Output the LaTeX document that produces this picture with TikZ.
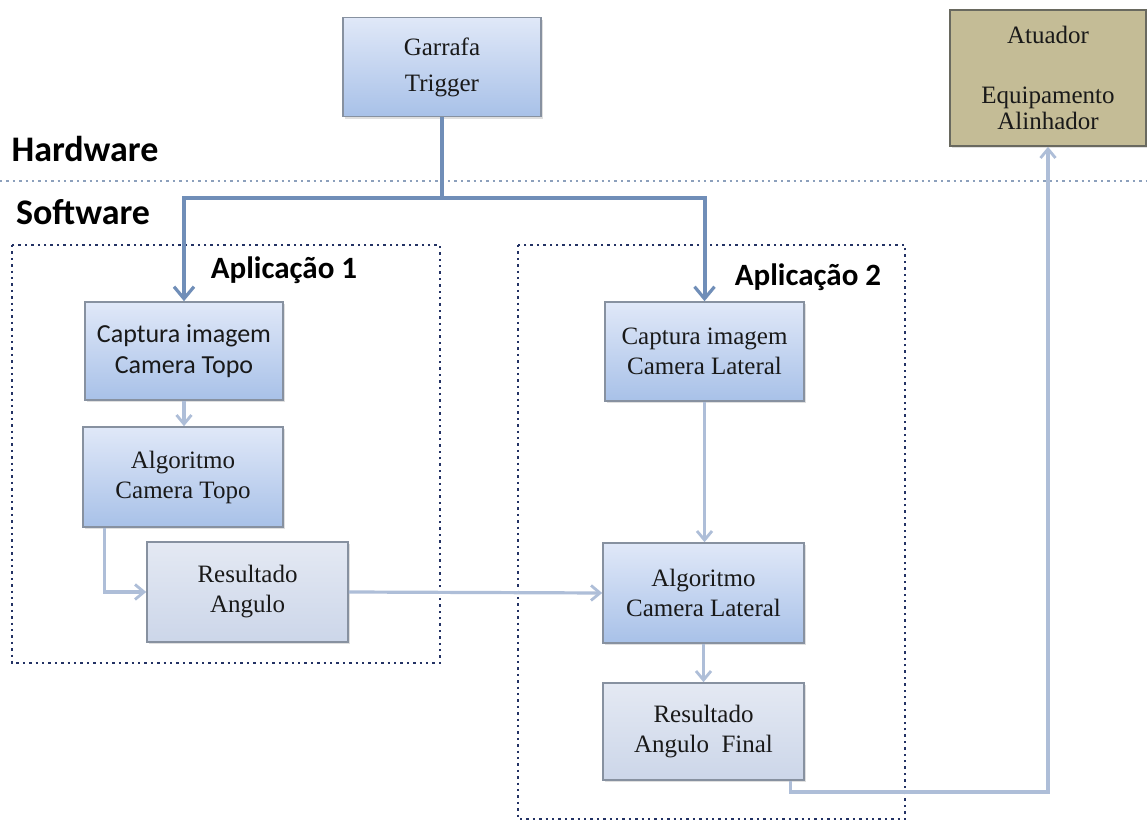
\documentclass[tikz,border=0pt]{standalone}
\usepackage{fontspec}
\setmainfont{Liberation Serif}
\newfontfamily\calib{Carlito}
\usetikzlibrary{arrows.meta,shadows}
\definecolor{boxborder}{RGB}{135,145,160}
\definecolor{gtop}{RGB}{224,232,248}
\definecolor{gbot}{RGB}{168,193,232}
\definecolor{rtop}{RGB}{228,233,243}
\definecolor{rbot}{RGB}{204,214,233}
\definecolor{khaki}{RGB}{196,188,150}
\definecolor{khakiborder}{RGB}{105,105,95}
\definecolor{trig}{RGB}{112,142,184}
\definecolor{conn}{RGB}{174,190,216}
\definecolor{navy}{RGB}{35,50,100}
\definecolor{sep}{RGB}{140,160,188}
\definecolor{txt}{RGB}{25,25,25}
\tikzset{
  x=0.5pt, y=-0.5pt,
  blk/.style={draw=boxborder, line width=0.8pt, inner sep=0pt, align=center,
    text=txt, font=\fontsize{12.5}{15}\selectfont,
    drop shadow={opacity=0.25, shadow xshift=1.2pt, shadow yshift=-1.2pt}},
  blue/.style={blk, top color=gtop, bottom color=gbot},
  res/.style={blk, top color=rtop, bottom color=rbot},
  lbl/.style={font=\calib\bfseries\fontsize{18}{20}\selectfont, text=black, inner sep=0pt},
  albl/.style={font=\calib\bfseries\fontsize{15.5}{18}\selectfont, text=black, inner sep=0pt},
  trigline/.style={draw=trig, line width=2pt},
  connline/.style={draw=conn, line width=1.6pt},
  tip/.style={-{Straight Barb[length=4.5pt, width=7.5pt, line width=1.4pt]}},
  bigtip/.style={-{Straight Barb[length=6pt, width=10pt, line width=1.6pt]}},
  appbox/.style={draw=navy, line width=1.2pt, dotted},
}
\begin{document}
\begin{tikzpicture}
\path[fill=white, use as bounding box] (0,0) rectangle (1147,823);

% separator and labels
\draw[draw=sep, line width=1.2pt, dotted] (0,181) -- (1147,181);
\node[lbl] (hw) at (85,149) {Hardware};
\node[lbl] (sw) at (83,212) {Software};

% application frames
\draw[appbox] (12,245) rectangle (440,663);
\draw[appbox] (518,245) rectangle (905,819);
\node[albl] (a1) at (284,270) {Aplicação 1};
\node[albl] (a2) at (808,277) {Aplicação 2};

% boxes
\node[blue, minimum width=99pt, minimum height=49.5pt, font=\fontsize{12.5}{18}\selectfont] (g) at (442,67) {\raisebox{-2pt}{Garrafa}\\\raisebox{-2pt}{Trigger}};
\node[blk, fill=khaki, draw=khakiborder, minimum width=98pt, minimum height=68pt, font=\fontsize{12.5}{13}\selectfont] (at) at (1048,78)
  {Atuador\\[17pt]Equipamento\\Alinhador};
\node[blue, minimum width=99pt, minimum height=49pt, font=\calib\fontsize{13}{15.5}\selectfont] (ct) at (184,351) {Captura imagem\\Camera Topo};
\node[blue, minimum width=100pt, minimum height=50pt] (atp) at (183,477) {Algoritmo\\Camera Topo};
\node[res, minimum width=100.5pt, minimum height=50pt] (rt) at (247.5,592) {Resultado\\Angulo};
\node[blue, minimum width=99.5pt, minimum height=49.5pt] (cl) at (704.5,351.5) {Captura imagem\\Camera Lateral};
\node[blue, minimum width=100.5pt, minimum height=50pt] (al) at (703.5,593) {Algoritmo\\Camera Lateral};
\node[res, minimum width=100.5pt, minimum height=48.5pt] (rf) at (703.5,731.5) {Resultado\\Angulo~~Final};

% trigger connectors
\coordinate (tj) at (442,198);
\draw[trigline] (g.south) -- (tj);
\draw[trigline, bigtip] (tj) -| (ct.north);
\draw[trigline, bigtip] (tj) -| (cl.north);

% flow connectors
\draw[connline, tip] (ct.south) -- (ct.south |- atp.north);
\draw[connline, tip] ([xshift=11pt]atp.south west) |- (rt.west);
\draw[connline, tip] (rt.east) -- (al.west);
\draw[connline, tip] (cl.south) -- (cl.south |- al.north);
\draw[connline, tip] (al.south) -- (al.south |- rf.north);
\coordinate (ca) at (1048,792);
\draw[connline, tip] ([xshift=-7pt]rf.south east) |- (ca) -- (at.south);
\end{tikzpicture}
\end{document}
